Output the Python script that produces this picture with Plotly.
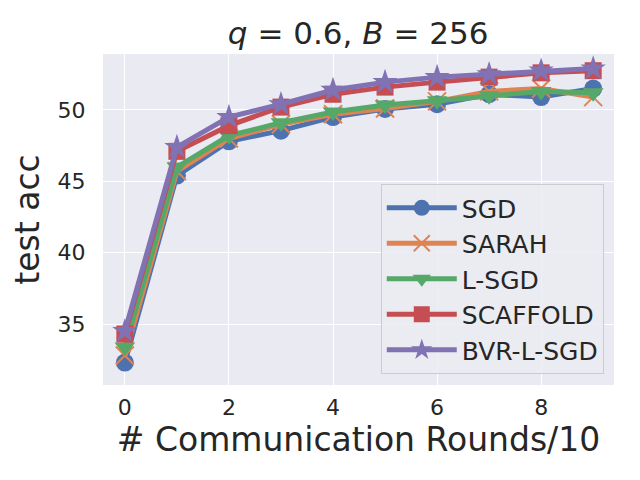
import plotly.graph_objects as go

rounds = list(range(10))
sgd = [32.3, 45.4, 47.8, 48.55, 49.5, 50.07, 50.4, 51.1, 50.9, 51.5]
sarah = [32.8, 45.7, 48.0, 49.0, 49.7, 50.1, 50.6, 51.3, 51.5, 50.9]
lsgd = [33.4, 46.0, 48.2, 49.1, 49.85, 50.35, 50.65, 51.0, 51.3, 51.2]
scaffold = [34.3, 47.1, 48.9, 50.2, 51.1, 51.6, 51.95, 52.3, 52.6, 52.75]
bvr = [34.5, 47.4, 49.5, 50.4, 51.4, 51.95, 52.3, 52.5, 52.75, 52.9]

names = ["SGD", "SARAH", "L-SGD", "SCAFFOLD", "BVR-L-SGD"]
series = [sgd, sarah, lsgd, scaffold, bvr]
colors = ["#4C72B0", "#DD8452", "#55A868", "#C44E52", "#8172B3"]
symbols = ["circle", "x-thin", "triangle-down", "square", "star"]
sizes = [18, 18, 18, 17, 19]

fig = go.Figure()
for name, ys, col, sym, sz in zip(names, series, colors, symbols, sizes):
    fig.add_trace(go.Scatter(
        x=rounds, y=ys, name=name, mode="lines+markers",
        line=dict(color=col, width=5),
        marker=dict(symbol=sym, size=sz, color=col,
                    line=dict(color=col, width=2 if sym == "x-thin" else 0)),
    ))

# page body has an 8px margin, so the figure is a bit smaller than the window
fig.update_layout(
    width=632, height=472,
    paper_bgcolor="white", plot_bgcolor="#EAEAF2",
    margin=dict(l=95, r=26, t=46, b=95),
    font=dict(family="DejaVu Sans", color="#262626"),
    title=dict(text="<i>q</i> = 0.6, <i>B</i> = 256", x=0.554, xanchor="center",
               y=0.947, yanchor="middle", font=dict(size=31, color="#262626")),
    xaxis=dict(range=[-0.42, 9.4], tickvals=[0, 2, 4, 6, 8], showgrid=True,
               gridcolor="white", gridwidth=1.3, zeroline=False,
               ticks="outside", ticklen=3, tickcolor="rgba(0,0,0,0)",
               tickfont=dict(size=22), automargin=False,
               title=dict(text="# Communication Rounds/10", font=dict(size=33), standoff=8)),
    yaxis=dict(range=[30.73, 53.92], tickvals=[35, 40, 45, 50], showgrid=True,
               gridcolor="white", gridwidth=1.3, zeroline=False,
               ticks="outside", ticklen=12, tickcolor="rgba(0,0,0,0)",
               tickfont=dict(size=22), automargin=False,
               title=dict(text="test acc", font=dict(size=33), standoff=18)),
    legend=dict(x=0.98, y=0.033, xanchor="right", yanchor="bottom",
                bgcolor="rgba(235,235,242,0.85)", bordercolor="#CCCCCC", borderwidth=1,
                font=dict(size=25), itemwidth=70),
)

fig.write_html("out.html")
